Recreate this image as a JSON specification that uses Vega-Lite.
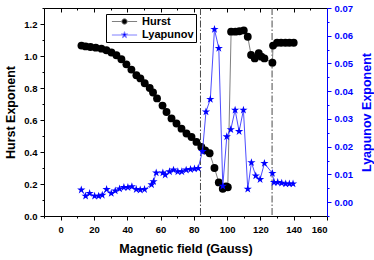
{
  "$schema": "https://vega.github.io/schema/vega-lite/v6.json",
  "width": 283,
  "height": 208,
  "autosize": {"type": "none"},
  "padding": {"left": 44, "top": 8, "right": 47, "bottom": 44},
  "background": "white",
  "config": {
    "view": {"stroke": null},
    "axis": {
      "grid": false,
      "domainColor": "black",
      "tickColor": "black",
      "labelColor": "black",
      "labelFont": "Liberation Sans",
      "labelFontWeight": "bold",
      "labelFontSize": 9.5,
      "titleFont": "Liberation Sans",
      "titleFontWeight": "bold",
      "titleFontSize": 12.5,
      "titleColor": "black"
    }
  },
  "datasets": {
    "vlines": [{"B": 84}, {"B": 127}],
    "hurst": [
      {"B": 12.5, "H": 1.065, "s": "Hurst"},
      {"B": 15.0, "H": 1.060, "s": "Hurst"},
      {"B": 17.9, "H": 1.056, "s": "Hurst"},
      {"B": 21.1, "H": 1.052, "s": "Hurst"},
      {"B": 24.5, "H": 1.046, "s": "Hurst"},
      {"B": 27.5, "H": 1.036, "s": "Hurst"},
      {"B": 30.5, "H": 1.022, "s": "Hurst"},
      {"B": 33.5, "H": 1.005, "s": "Hurst"},
      {"B": 36.5, "H": 0.980, "s": "Hurst"},
      {"B": 39.5, "H": 0.948, "s": "Hurst"},
      {"B": 42.5, "H": 0.915, "s": "Hurst"},
      {"B": 45.5, "H": 0.880, "s": "Hurst"},
      {"B": 47.9, "H": 0.860, "s": "Hurst"},
      {"B": 50.5, "H": 0.830, "s": "Hurst"},
      {"B": 53.5, "H": 0.800, "s": "Hurst"},
      {"B": 55.5, "H": 0.772, "s": "Hurst"},
      {"B": 57.9, "H": 0.735, "s": "Hurst"},
      {"B": 61.2, "H": 0.690, "s": "Hurst"},
      {"B": 63.6, "H": 0.650, "s": "Hurst"},
      {"B": 66.6, "H": 0.610, "s": "Hurst"},
      {"B": 69.6, "H": 0.578, "s": "Hurst"},
      {"B": 72.6, "H": 0.546, "s": "Hurst"},
      {"B": 75.6, "H": 0.516, "s": "Hurst"},
      {"B": 78.6, "H": 0.494, "s": "Hurst"},
      {"B": 81.6, "H": 0.463, "s": "Hurst"},
      {"B": 84.5, "H": 0.432, "s": "Hurst"},
      {"B": 86.8, "H": 0.410, "s": "Hurst"},
      {"B": 89.5, "H": 0.392, "s": "Hurst"},
      {"B": 92.4, "H": 0.300, "s": "Hurst"},
      {"B": 95.0, "H": 0.210, "s": "Hurst"},
      {"B": 97.4, "H": 0.170, "s": "Hurst"},
      {"B": 99.4, "H": 0.185, "s": "Hurst"},
      {"B": 100.4, "H": 0.180, "s": "Hurst"},
      {"B": 102.4, "H": 1.152, "s": "Hurst"},
      {"B": 105.0, "H": 1.152, "s": "Hurst"},
      {"B": 107.4, "H": 1.155, "s": "Hurst"},
      {"B": 110.0, "H": 1.160, "s": "Hurst"},
      {"B": 112.4, "H": 1.120, "s": "Hurst"},
      {"B": 114.4, "H": 1.006, "s": "Hurst"},
      {"B": 116.6, "H": 0.985, "s": "Hurst"},
      {"B": 119.0, "H": 1.017, "s": "Hurst"},
      {"B": 120.6, "H": 0.996, "s": "Hurst"},
      {"B": 122.4, "H": 0.985, "s": "Hurst"},
      {"B": 127.2, "H": 0.958, "s": "Hurst"},
      {"B": 127.6, "H": 1.065, "s": "Hurst"},
      {"B": 130.0, "H": 1.083, "s": "Hurst"},
      {"B": 132.4, "H": 1.083, "s": "Hurst"},
      {"B": 135.0, "H": 1.083, "s": "Hurst"},
      {"B": 137.4, "H": 1.083, "s": "Hurst"},
      {"B": 140.0, "H": 1.083, "s": "Hurst"}
    ],
    "lyap": [
      {"B": 12.4, "L": 0.0044, "s": "Lyapunov"},
      {"B": 15.0, "L": 0.0022, "s": "Lyapunov"},
      {"B": 17.4, "L": 0.0032, "s": "Lyapunov"},
      {"B": 20.4, "L": 0.0022, "s": "Lyapunov"},
      {"B": 22.8, "L": 0.0022, "s": "Lyapunov"},
      {"B": 25.0, "L": 0.0025, "s": "Lyapunov"},
      {"B": 27.6, "L": 0.0046, "s": "Lyapunov"},
      {"B": 30.4, "L": 0.0032, "s": "Lyapunov"},
      {"B": 32.8, "L": 0.0041, "s": "Lyapunov"},
      {"B": 35.4, "L": 0.0048, "s": "Lyapunov"},
      {"B": 38.0, "L": 0.0053, "s": "Lyapunov"},
      {"B": 40.4, "L": 0.0053, "s": "Lyapunov"},
      {"B": 42.8, "L": 0.0056, "s": "Lyapunov"},
      {"B": 45.4, "L": 0.0046, "s": "Lyapunov"},
      {"B": 47.8, "L": 0.0044, "s": "Lyapunov"},
      {"B": 50.4, "L": 0.0046, "s": "Lyapunov"},
      {"B": 54.6, "L": 0.0063, "s": "Lyapunov"},
      {"B": 55.8, "L": 0.0074, "s": "Lyapunov"},
      {"B": 57.4, "L": 0.0106, "s": "Lyapunov"},
      {"B": 61.4, "L": 0.0106, "s": "Lyapunov"},
      {"B": 62.8, "L": 0.0098, "s": "Lyapunov"},
      {"B": 65.4, "L": 0.0110, "s": "Lyapunov"},
      {"B": 67.8, "L": 0.0116, "s": "Lyapunov"},
      {"B": 70.4, "L": 0.0110, "s": "Lyapunov"},
      {"B": 72.8, "L": 0.0110, "s": "Lyapunov"},
      {"B": 75.4, "L": 0.0116, "s": "Lyapunov"},
      {"B": 78.0, "L": 0.0118, "s": "Lyapunov"},
      {"B": 80.4, "L": 0.0120, "s": "Lyapunov"},
      {"B": 82.6, "L": 0.0122, "s": "Lyapunov"},
      {"B": 85.2, "L": 0.0183, "s": "Lyapunov"},
      {"B": 87.3, "L": 0.0326, "s": "Lyapunov"},
      {"B": 89.9, "L": 0.0371, "s": "Lyapunov"},
      {"B": 92.4, "L": 0.0623, "s": "Lyapunov"},
      {"B": 95.0, "L": 0.0555, "s": "Lyapunov"},
      {"B": 97.4, "L": 0.0058, "s": "Lyapunov"},
      {"B": 99.8, "L": 0.0236, "s": "Lyapunov"},
      {"B": 102.2, "L": 0.0262, "s": "Lyapunov"},
      {"B": 104.8, "L": 0.0332, "s": "Lyapunov"},
      {"B": 107.2, "L": 0.0255, "s": "Lyapunov"},
      {"B": 109.8, "L": 0.0332, "s": "Lyapunov"},
      {"B": 112.4, "L": 0.0047, "s": "Lyapunov"},
      {"B": 114.6, "L": 0.0143, "s": "Lyapunov"},
      {"B": 117.2, "L": 0.0095, "s": "Lyapunov"},
      {"B": 119.8, "L": 0.0082, "s": "Lyapunov"},
      {"B": 122.4, "L": 0.0140, "s": "Lyapunov"},
      {"B": 127.2, "L": 0.0104, "s": "Lyapunov"},
      {"B": 128.2, "L": 0.0071, "s": "Lyapunov"},
      {"B": 130.4, "L": 0.0071, "s": "Lyapunov"},
      {"B": 132.8, "L": 0.0069, "s": "Lyapunov"},
      {"B": 135.2, "L": 0.0066, "s": "Lyapunov"},
      {"B": 137.4, "L": 0.0066, "s": "Lyapunov"},
      {"B": 139.6, "L": 0.0066, "s": "Lyapunov"}
    ]
  },
  "layer": [
    {
      "data": {"name": "vlines"},
      "mark": {"type": "rule", "color": "#4a4a4a", "strokeWidth": 1, "strokeDash": [7, 2, 1.5, 2]},
      "encoding": {
        "x": {
          "field": "B", "type": "quantitative",
          "scale": {"domain": [-10, 160], "nice": false, "zero": false},
          "axis": {
            "orient": "top", "title": null, "labels": false,
            "values": [-10, 0, 10, 20, 30, 40, 50, 60, 70, 80, 90, 100, 110, 120, 130, 140, 150, 160],
            "tickSize": {"condition": {"test": "datum.value % 20 === 0", "value": -4}, "value": -2}
          }
        }
      }
    },
    {
      "data": {"name": "hurst"},
      "encoding": {
        "x": {
          "field": "B", "type": "quantitative",
          "scale": {"domain": [-10, 160], "nice": false, "zero": false},
          "axis": {
            "orient": "bottom", "title": "Magnetic field (Gauss)",
            "values": [-10, 0, 10, 20, 30, 40, 50, 60, 70, 80, 90, 100, 110, 120, 130, 140, 150, 160],
            "labelExpr": "datum.value % 20 === 0 ? datum.label : ''",
            "tickSize": {"condition": {"test": "datum.value % 20 === 0", "value": 4}, "value": 2},
            "labelPadding": 4,
            "titleY": 26
          }
        },
        "y": {
          "field": "H", "type": "quantitative",
          "scale": {"domain": [0, 1.3], "nice": false},
          "axis": {
            "orient": "left", "title": "Hurst Exponent",
            "values": [0, 0.1, 0.2, 0.3, 0.4, 0.5, 0.6, 0.7, 0.8, 0.9, 1.0, 1.1, 1.2, 1.3],
            "format": ".1f",
            "labelExpr": "round(datum.value * 10) % 2 === 0 ? datum.label : ''",
            "tickSize": {"condition": {"test": "round(datum.value * 10) % 2 === 0", "value": 4}, "value": 2},
            "labelPadding": 3,
            "titleX": -34,
            "titleY": 104,
            "titleBaseline": "middle"
          }
        }
      },
      "layer": [
        {"mark": {"type": "line", "color": "#808080", "strokeWidth": 1}},
        {
          "mark": {"type": "point", "shape": "circle", "filled": true, "size": 62, "opacity": 1},
          "encoding": {
            "color": {
              "field": "s", "type": "nominal",
              "scale": {"domain": ["Hurst", "Lyapunov"], "range": ["#000000", "#0000ff"]},
              "legend": {
                "title": null,
                "orient": "none",
                "legendX": 62,
                "legendY": 6,
                "strokeColor": "black",
                "fillColor": "white",
                "padding": 2,
                "cornerRadius": 0,
                "symbolSize": 36,
                "symbolOffset": 11,
                "labelOffset": 12,
                "rowPadding": 1.5,
                "labelFont": "Liberation Sans",
                "labelFontSize": 11,
                "labelFontWeight": "bold",
                "labelColor": "black",
                "symbolStrokeWidth": 1,
                "symbolOpacity": 1,
                "encoding": {
                  "symbols": {
                    "shape": {
                      "condition": {"test": "datum.value === 'Hurst'", "value": "M-4.2,0L-0.9,0M0.9,0L4.2,0M-0.9,0A0.9,0.9,0,1,1,0.9,0A0.9,0.9,0,1,1,-0.9,0Z"},
                      "value": "M-4.2,0L-0.6,0M0.6,0L4.2,0M0,-1.1L0.247,-0.34L1.046,-0.34L0.4,0.13L0.647,0.89L0,0.42L-0.647,0.89L-0.4,0.13L-1.046,-0.34L-0.247,-0.34Z"
                    },
                    "stroke": {
                      "condition": {"test": "datum.value === 'Hurst'", "value": "#808080"},
                      "value": "#8080ff"
                    }
                  }
                }
              }
            }
          }
        }
      ]
    },
    {
      "data": {"name": "lyap"},
      "encoding": {
        "x": {
          "field": "B", "type": "quantitative",
          "scale": {"domain": [-10, 160], "nice": false, "zero": false},
          "axis": null
        },
        "y": {
          "field": "L", "type": "quantitative",
          "scale": {"domain": [-0.005, 0.07], "nice": false, "zero": false},
          "axis": {
            "orient": "right", "title": "Lyapunov Exponent",
            "values": [-0.005, 0, 0.005, 0.01, 0.015, 0.02, 0.025, 0.03, 0.035, 0.04, 0.045, 0.05, 0.055, 0.06, 0.065, 0.07],
            "format": ".2f",
            "labelExpr": "round(datum.value * 1000) % 10 === 0 ? datum.label : ''",
            "tickSize": {"condition": {"test": "round(datum.value * 1000) % 10 === 0", "value": 4}, "value": 2},
            "labelPadding": 3,
            "domainColor": "#0000ff",
            "tickColor": "#0000ff",
            "labelColor": "#0000ff",
            "titleColor": "#0000ff",
            "titleAngle": 270,
            "titleX": 39,
            "titleY": 104,
            "titleBaseline": "middle"
          }
        }
      },
      "layer": [
        {"mark": {"type": "line", "color": "#4d4dff", "strokeWidth": 1}},
        {
          "mark": {"type": "point", "filled": true, "size": 75, "opacity": 1,
            "shape": "M0,-1L0.2245,-0.309L0.9511,-0.309L0.3633,0.118L0.5878,0.809L0,0.382L-0.5878,0.809L-0.3633,0.118L-0.9511,-0.309L-0.2245,-0.309Z"},
          "encoding": {
            "color": {"field": "s", "type": "nominal"}
          }
        }
      ]
    }
  ],
  "resolve": {"scale": {"y": "independent"}, "axis": {"x": "independent", "y": "independent"}}
}
